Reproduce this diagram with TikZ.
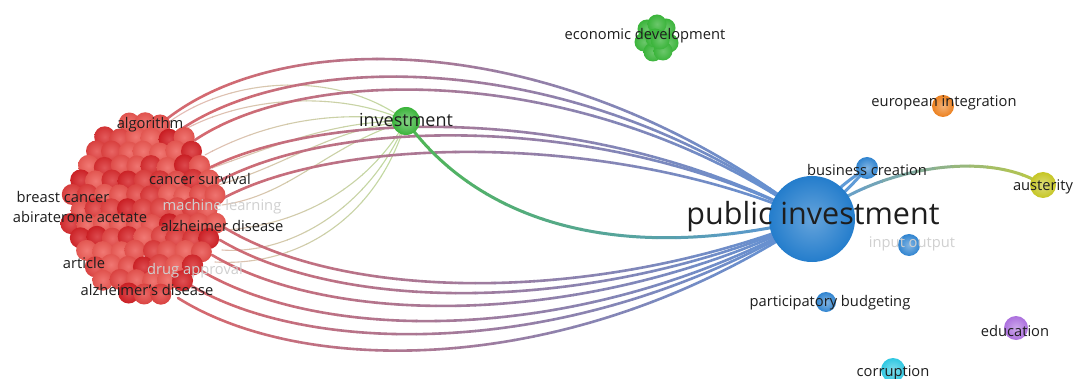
\documentclass[tikz,border=0pt]{standalone}
\usepackage{fontspec}
\setmainfont{Open Sans}
\usetikzlibrary{calc}
\definecolor{eRed}{RGB}{214,104,110}
\definecolor{eBlue}{RGB}{98,146,212}
\definecolor{gPink}{RGB}{230,186,182}
\definecolor{gGreen}{RGB}{192,218,160}
\definecolor{iGreen}{RGB}{80,182,85}
\definecolor{iBlue}{RGB}{92,150,214}
\definecolor{aBlue}{RGB}{95,155,215}
\definecolor{aYel}{RGB}{185,200,70}
\definecolor{rDark}{RGB}{210,28,34}
\definecolor{rLight}{RGB}{238,92,86}
\definecolor{txt}{RGB}{30,30,30}
\definecolor{faint}{RGB}{208,208,208}
\definecolor{piBlue}{RGB}{36,125,204}
\definecolor{nBlue}{RGB}{48,132,208}
\definecolor{nGreen}{RGB}{58,180,58}
\definecolor{nOrange}{RGB}{236,128,30}
\definecolor{nYel}{RGB}{198,198,36}
\definecolor{nPurple}{RGB}{172,112,222}
\definecolor{nCyan}{RGB}{48,200,226}
\tikzset{
  lbl/.style={text=txt, font=\fontsize{14.7}{17}\selectfont, inner sep=0pt},
  faintlbl/.style={lbl, text=faint},
  edgeline/.style={line width=2.6pt, line cap=round},
  paleline/.style={line width=1.1pt, line cap=round},
  greenline/.style={line width=3pt, line cap=round},
  bubble/.style={circle, inner sep=0pt},
}
% gradient stroke along x: #1 x start, #2 x end, #3 steps, #4 colour A, #5 colour B, #6 drawing commands
\newcommand{\gradstroke}[6]{%
  \pgfmathsetmacro\stp{(#2-#1)/#3}%
  \foreach \k in {1,...,#3}{%
    \pgfmathsetmacro\xa{#1+\stp*(\k-1)}%
    \pgfmathsetmacro\xb{#1+\stp*\k}%
    \ifnum\k=1 \def\xa{-100}\fi
    \ifnum\k=#3 \def\xb{1200}\fi
    \pgfmathsetmacro\pp{100*(\k-0.5)/#3}%
    \begin{scope}
      \clip (\xa-0.4,-20) rectangle (\xb+0.4,420);
      \colorlet{gc}{#5!\pp!#4}%
      \begin{scope}[color=gc] #6 \end{scope}
    \end{scope}
  }%
}
\newcommand{\rbEdges}{%
  \draw[edgeline] (u1) .. controls +(117,-96) and +(-252,-193) .. (pi);
  \draw[edgeline] (u2) .. controls +(120,-82) and +(-232,-171) .. (pi);
  \draw[edgeline] (u3) .. controls +(115,-77) and +(-222,-156) .. (pi);
  \draw[edgeline] (u4) .. controls +(125,-64) and +(-212,-113) .. (pi);
  \draw[edgeline] (u5) .. controls +(123,-71) and +(-202,-105) .. (pi);
  \draw[edgeline] (u6) .. controls +(120,-67) and +(-192,-86) .. (pi);
  \draw[edgeline] (l1) .. controls +(125,75) and +(-212,84) .. (pi);
  \draw[edgeline] (l2) .. controls +(125,74) and +(-217,95) .. (pi);
  \draw[edgeline] (l3) .. controls +(123,73) and +(-222,109) .. (pi);
  \draw[edgeline] (l4) .. controls +(125,75) and +(-227,126) .. (pi);
  \draw[edgeline] (l5) .. controls +(125,74) and +(-232,140) .. (pi);
  \draw[edgeline] (l6) .. controls +(127,80) and +(-237,159) .. (pi);
}
\newcommand{\paleEdges}{%
  \draw[paleline] (g1) .. controls +(65,-50) and +(-66,-51) .. (inv);
  \draw[paleline] (g2) .. controls +(65,-40) and +(-66,-31) .. (inv);
  \draw[paleline] (g3) .. controls +(65,-35) and +(-66,-11) .. (inv);
  \draw[paleline] (g4) .. controls +(70,-25) and +(-70,0) .. (inv);
  \draw[paleline] (g5) .. controls +(70,-20) and +(-80,10) .. (inv);
  \draw[paleline] (g6) .. controls +(70,-10) and +(-80,25) .. (inv);
  \draw[paleline] (g7) .. controls +(70,-5) and +(-40,70) .. (inv);
  \draw[paleline] (g8) .. controls +(70,5) and +(-35,85) .. (inv);
  \draw[paleline] (g9) .. controls +(80,5) and +(-30,100) .. (inv);
}
\newcommand{\invEdge}{%
  \draw[greenline] (inv) .. controls +(64,89) and +(-212,51) .. (pi);
}
\newcommand{\ausEdge}{%
  \draw[greenline] (pi) .. controls +(68,-54) and +(-53,-35) .. (aus);
}
\begin{document}
\begin{tikzpicture}[x=1pt,y=-1pt]
\fill[white] (0,0) rectangle (1075,379);
\useasboundingbox (0,0) rectangle (1075,379);
% node positions
\coordinate (cl) at (144,209);
\coordinate (pi) at (812,219);
\coordinate (inv) at (406,121);
\coordinate (econ) at (657,38);
\coordinate (bus) at (867,168);
\coordinate (euro) at (943,106);
\coordinate (aus) at (1043,185);
\coordinate (inout) at (909,245);
\coordinate (part) at (826,302);
\coordinate (edu) at (1016,328);
\coordinate (corr) at (893,370);
% edge ends inside the cluster
\coordinate (u1) at (163,122); \coordinate (u2) at (180,130); \coordinate (u3) at (195,140);
\coordinate (u4) at (205,170); \coordinate (u5) at (212,185); \coordinate (u6) at (220,200);
\coordinate (l1) at (225,228); \coordinate (l2) at (220,240); \coordinate (l3) at (212,255);
\coordinate (l4) at (200,270); \coordinate (l5) at (190,285); \coordinate (l6) at (178,298);
\coordinate (g1) at (165,125); \coordinate (g2) at (175,135); \coordinate (g3) at (205,155);
\coordinate (g4) at (212,168); \coordinate (g5) at (218,185); \coordinate (g6) at (222,205);
\coordinate (g7) at (226,230); \coordinate (g8) at (222,250); \coordinate (g9) at (215,262);
% edges
\gradstroke{175}{400}{12}{gPink}{gGreen}{\paleEdges}
\gradstroke{200}{790}{30}{eRed}{eBlue}{\rbEdges}
\gradstroke{410}{790}{20}{iGreen}{iBlue}{\invEdge}
\draw[greenline, color=aBlue] (pi) to[bend left=10] (bus);
\draw[greenline, color=aBlue] (pi) to[bend right=6] (bus);
\gradstroke{830}{1040}{12}{aBlue}{aYel}{\ausEdge}
% red cluster
\pgfmathsetseed{5}
\foreach \j in {-6,...,6}{
  \foreach \i in {-6,...,5}{
    \pgfmathsetmacro\bx{144+16*\i+8*mod(abs(\j),2)+rand*1.5}
    \pgfmathsetmacro\by{209+14.2*\j+rand*1.5}
    \pgfmathsetmacro\dd{veclen(\bx-144,(\by-209)*0.85)}
    \pgfmathsetmacro\pq{int(100*rnd^2.2)}
    \ifdim\dd pt<76pt
      \colorlet{bc}{rDark!\pq!rLight}
      \shade[inner color=bc!82!white, outer color=bc!95!black] (\bx,\by) circle[radius=10.5pt];
    \fi
  }
}
% other nodes
\foreach \dx/\dy in {-10/-9,9/-10,-13/4,12/5,-4/14,6/13,0/-14,-2/0,3/2}{
  \shade[inner color=nGreen!75!white, outer color=nGreen] ($(econ)+(\dx,\dy)$) circle[radius=9.5pt];
}
\node[bubble, minimum size=86pt, inner color=piBlue!70!white, outer color=piBlue, shade] (piN) at (pi) {};
\node[bubble, minimum size=28pt, inner color=nGreen!60!white, outer color=nGreen, shade] (invN) at (inv) {};
\node[bubble, minimum size=22pt, inner color=nBlue!60!white, outer color=nBlue, shade] (busN) at (bus) {};
\node[bubble, minimum size=22pt, inner color=nOrange!60!white, outer color=nOrange, shade] (euroN) at (euro) {};
\node[bubble, minimum size=26pt, inner color=nYel!60!white, outer color=nYel, shade] (ausN) at (aus) {};
\node[bubble, minimum size=22pt, inner color=nBlue!60!white, outer color=nBlue, shade] (inoutN) at (inout) {};
\node[bubble, minimum size=20pt, inner color=nBlue!60!white, outer color=nBlue, shade] (partN) at (part) {};
\node[bubble, minimum size=24pt, inner color=nPurple!60!white, outer color=nPurple, shade] (eduN) at (edu) {};
\node[bubble, minimum size=24pt, inner color=nCyan!60!white, outer color=nCyan, shade] (corrN) at (corr) {};
% labels
\node[lbl, font=\fontsize{18}{20}\selectfont] (invL) at (406,120) {investment};
\node[lbl] (econL) at (645,36) {economic development};
\node[lbl] (euroL) at (944,103) {european integration};
\node[lbl] (busL) at (867,170) {business creation};
\node[lbl] (ausL) at (1043,187) {austerity};
\node[lbl, font=\fontsize{30.5}{34}\selectfont] (piL) at (813,217) {public investment};
\node[faintlbl] (inoutL) at (912,244) {input output};
\node[lbl] (partL) at (830,303) {participatory budgeting};
\node[lbl] (eduL) at (1015,331) {education};
\node[lbl] (corrL) at (893,373) {corruption};
\node[faintlbl] (mlL) at (222,207) {machine learning};
\node[faintlbl] (daL) at (195,271) {drug approval};
\node[lbl] (algL) at (150,125) {algorithm};
\node[lbl] (csL) at (200,179) {cancer survival};
\node[lbl] (bcL) at (63,197) {breast cancer};
\node[lbl] (aaL) at (80,217) {abiraterone acetate};
\node[lbl] (adL) at (222,226) {alzheimer disease};
\node[lbl] (arL) at (84,263) {article};
\node[lbl] (ad2L) at (147,290) {alzheimer’s disease};
\end{tikzpicture}
\end{document}
